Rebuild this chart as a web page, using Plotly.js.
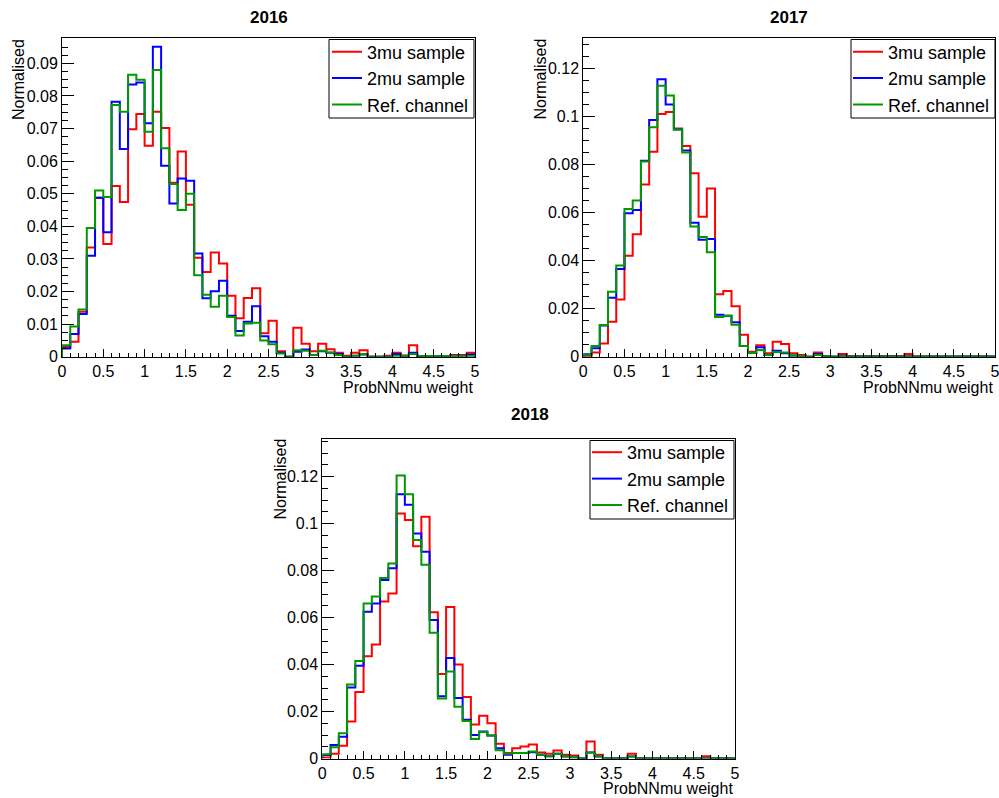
<!DOCTYPE html>
<html>
<head>
<meta charset="utf-8">
<script src="https://cdn.plot.ly/plotly-3.0.1.min.js"></script>
<style>html,body{margin:0;padding:0;background:#fff;}#chart{width:999px;height:798px;}</style>
</head>
<body>
<div id="chart"></div>
<script>
// Bin edges (50 bins, 0 to 5)
const binEdges = [0,0.1,0.2,0.3,0.4,0.5,0.6,0.7,0.8,0.9,1.0,1.1,1.2,1.3,1.4,1.5,1.6,1.7,1.8,1.9,2.0,2.1,2.2,2.3,2.4,2.5,2.6,2.7,2.8,2.9,3.0,3.1,3.2,3.3,3.4,3.5,3.6,3.7,3.8,3.9,4.0,4.1,4.2,4.3,4.4,4.5,4.6,4.7,4.8,4.9,5.0];

const seriesNames = ["3mu sample", "2mu sample", "Ref. channel"];
const panelTitles = ["2016", "2017", "2018"];
const xTitle = "ProbNNmu weight";
const yTitle = "Normalised";

// 2016
const red2016 = [0.003,0.0046,0.0138,0.0335,0.0488,0.0346,0.0524,0.0475,0.0698,0.0745,0.0647,0.0752,0.0702,0.0534,0.063,0.0466,0.0304,0.026,0.032,0.0286,0.0187,0.0118,0.018,0.021,0.0072,0.011,0.0017,0,0.0089,0.004,0.0017,0.004,0.0023,0.0012,0.0003,0.0012,0.002,0,0,0.0003,0.0012,0.0003,0.0035,0,0,0,0,0.0005,0.0005,0.0012];
const blue2016 = [0.0025,0.007,0.0131,0.031,0.0488,0.0382,0.0782,0.0637,0.0835,0.0841,0.0716,0.0951,0.0586,0.047,0.0547,0.054,0.0317,0.0179,0.0201,0.0233,0.0126,0.0079,0.0107,0.0155,0.0063,0.0046,0.0012,0,0.0015,0.0022,0.0005,0.0017,0.0012,0.0008,0,0.0003,0.0007,0,0,0,0.0008,0.0003,0.0012,0,0,0,0,0.0003,0.0003,0.0007];
const green2016 = [0.0035,0.0093,0.0145,0.0395,0.051,0.049,0.0772,0.0752,0.0865,0.085,0.069,0.088,0.064,0.053,0.045,0.05,0.025,0.019,0.0153,0.0187,0.0122,0.0065,0.0102,0.0104,0.005,0.0038,0.001,0,0.002,0.0018,0.0005,0.0018,0.0013,0.0005,0,0.0003,0.0008,0,0,0,0.0003,0.0003,0.0008,0.0002,0.0002,0.0002,0.0002,0.0002,0.0002,0.0002];

// 2017
const red2017 = [0.0003,0.0017,0.0055,0.0145,0.0238,0.042,0.051,0.0717,0.0853,0.101,0.1018,0.095,0.0877,0.0763,0.0582,0.07,0.026,0.0273,0.021,0.0091,0.0021,0.0048,0.0014,0.0062,0.0053,0.0014,0.0007,0,0.0017,0.0003,0,0.0011,0.0003,0.0003,0.0003,0.0003,0.0003,0.0003,0.0003,0.0011,0.0001,0.0001,0.0001,0.0001,0.0001,0.0001,0.0001,0.0001,0.0001,0.0001];
const blue2017 = [0.001,0.0035,0.013,0.0245,0.0365,0.0597,0.061,0.0815,0.0985,0.1155,0.105,0.0945,0.0858,0.0557,0.0487,0.049,0.0175,0.017,0.0143,0.0045,0.0015,0.0039,0.0007,0.0025,0.0014,0.0004,0.0003,0,0.0011,0.0002,0,0.0004,0.0001,0.0001,0.0001,0.0001,0.0001,0.0001,0.0001,0.0002,0.0001,0.0001,0.0001,0.0001,0.0001,0.0001,0.0001,0.0001,0.0001,0.0001];
const green2017 = [0.0008,0.0045,0.0132,0.027,0.038,0.0615,0.065,0.0812,0.0955,0.1128,0.1087,0.0945,0.085,0.0542,0.0498,0.0435,0.0165,0.017,0.0133,0.0045,0.0015,0.0028,0.0007,0.002,0.0017,0.0006,0.0003,0,0.0007,0.0002,0.0001,0.0002,0.0001,0.0001,0.0001,0.0001,0.0001,0.0001,0.0001,0.0001,0.0001,0.0001,0.0001,0.0001,0.0001,0.0001,0.0001,0.0001,0.0001,0.0001];

// 2018
const red2018 = [0.0004,0.002,0.0054,0.0158,0.0283,0.0435,0.0485,0.0668,0.0702,0.1043,0.1015,0.0904,0.1029,0.0623,0.036,0.0645,0.04,0.0262,0.0145,0.0182,0.015,0.0063,0.0023,0.0044,0.0051,0.006,0.0026,0.002,0.0034,0.0016,0.0013,0,0.0072,0.0016,0,0,0,0.002,0.0001,0.0001,0.0001,0.0001,0.0001,0.0001,0.0001,0.0001,0.001,0.0001,0.0001,0.0001];
const blue2018 = [0.0015,0.0058,0.0093,0.0302,0.0395,0.0625,0.066,0.076,0.081,0.1125,0.108,0.0958,0.088,0.059,0.0265,0.0428,0.0258,0.0165,0.01,0.0115,0.0098,0.0044,0.0016,0.0023,0.0023,0.0027,0.0016,0.001,0.002,0.0008,0.0004,0,0.0026,0.0008,0.0001,0.0001,0.0001,0.0008,0.0001,0.0001,0.0001,0.0001,0.0001,0.0001,0.0001,0.0001,0.0001,0.0001,0.0001,0.0001];
const green2018 = [0.0018,0.0048,0.0108,0.0315,0.0415,0.066,0.069,0.0768,0.083,0.1205,0.1125,0.093,0.0825,0.0535,0.0255,0.037,0.022,0.016,0.0083,0.0113,0.0098,0.0035,0.002,0.0023,0.0023,0.003,0.0016,0.001,0.002,0.001,0.0005,0,0.0026,0.001,0.0001,0.0001,0.0001,0.0008,0.0001,0.0001,0.0001,0.0001,0.0001,0.0001,0.0001,0.0001,0.0001,0.0001,0.0001,0.0001];

const colors = ["#ff0000", "#0000ff", "#009900"];
const FONT = "Liberation Sans, Arial, Helvetica, sans-serif";
const W = 999, H = 798;

// step outline: start at (0,0), step through bins, drop to 0 at last edge
function stepXY(vals) {
  const xs = [binEdges[0]];
  const ys = [0];
  for (let i = 0; i < vals.length; i++) { xs.push(binEdges[i]); ys.push(vals[i]); }
  xs.push(binEdges[binEdges.length - 1]); ys.push(0);
  return {xs, ys};
}

const panels = [
  {data: [red2016, blue2016, green2016], xa: "x", ya: "y", legend: "legend",
   box: {l: 62, r: 475, t: 38.3, b: 356.7}, yrange: [0, 0.0977], ydt: 0.01, yminor: 0.0025,
   title: {x: 269, y: 18}, yt: {x: 18.5, y: 37}, xt: {x: 475, y: 387},
   legBox: {l: 329, r: 474, t: 39.5, b: 118}, legTop: 33.5},
  {data: [red2017, blue2017, green2017], xa: "x2", ya: "y2", legend: "legend2",
   box: {l: 583.3, r: 995, t: 38.3, b: 356.7}, yrange: [0, 0.1325], ydt: 0.02, yminor: 0.005,
   title: {x: 789, y: 18}, yt: {x: 540, y: 37}, xt: {x: 995, y: 387},
   legBox: {l: 851, r: 995, t: 39.5, b: 118}, legTop: 33.5},
  {data: [red2018, blue2018, green2018], xa: "x3", ya: "y3", legend: "legend3",
   box: {l: 322.3, r: 735, t: 439.3, b: 758.5}, yrange: [0, 0.1359], ydt: 0.02, yminor: 0.005,
   title: {x: 530, y: 414}, yt: {x: 280, y: 437}, xt: {x: 735, y: 788},
   legBox: {l: 590, r: 734, t: 440.5, b: 519}, legTop: 434}
];

const traces = [];
const layout = {
  width: W, height: H,
  margin: {l: 0, r: 0, t: 0, b: 0},
  paper_bgcolor: "#ffffff", plot_bgcolor: "#ffffff",
  font: {family: FONT, color: "#000000", size: 16},
  annotations: [], shapes: [], showlegend: true
};

panels.forEach((p, pi) => {
  p.data.forEach((vals, si) => {
    const s = stepXY(vals);
    traces.push({
      type: "scatter", mode: "lines", x: s.xs, y: s.ys,
      xaxis: p.xa, yaxis: p.ya, name: seriesNames[si], legend: p.legend,
      line: {color: colors[si], width: 2, shape: "hv"},
      hoverinfo: "skip"
    });
  });
  const xk = pi === 0 ? "xaxis" : "xaxis" + (pi + 1);
  const yk = pi === 0 ? "yaxis" : "yaxis" + (pi + 1);
  layout[xk] = {
    domain: [p.box.l / W, p.box.r / W], anchor: p.ya,
    range: [0, 5], dtick: 0.5, tick0: 0, ticks: "inside", ticklen: 8, tickwidth: 1, tickcolor: "#000",
    minor: {dtick: 0.1, ticks: "inside", ticklen: 4, tickwidth: 1, tickcolor: "#000", showgrid: false},
    showgrid: false, zeroline: false, showline: true, linecolor: "#000", linewidth: 1, mirror: true,
    ticklabeloverflow: "allow",
    tickfont: {family: FONT, size: 16, color: "#000"}, fixedrange: true
  };
  layout[yk] = {
    domain: [1 - p.box.b / H, 1 - p.box.t / H], anchor: p.xa,
    range: p.yrange, dtick: p.ydt, tick0: 0, ticks: "inside", ticklen: 12, tickwidth: 1, tickcolor: "#000",
    minor: {dtick: p.yminor, ticks: "inside", ticklen: 6, tickwidth: 1, tickcolor: "#000", showgrid: false},
    showgrid: false, zeroline: false, showline: true, linecolor: "#000", linewidth: 1, mirror: true,
    ticklabeloverflow: "allow",
    tickfont: {family: FONT, size: 16, color: "#000"}, fixedrange: true
  };
  // legend frame (ROOT TLegend style box)
  layout.shapes.push({
    type: "rect", xref: "paper", yref: "paper", layer: "above",
    x0: p.legBox.l / W, x1: p.legBox.r / W, y0: 1 - p.legBox.b / H, y1: 1 - p.legBox.t / H,
    line: {color: "#000000", width: 1}, fillcolor: "#ffffff"
  });
  layout[p.legend] = {
    x: p.legBox.r / W, xanchor: "right", y: 1 - p.legTop / H, yanchor: "top",
    bgcolor: "rgba(0,0,0,0)", borderwidth: 0,
    font: {family: FONT, size: 18, color: "#000"}, tracegroupgap: 0
  };
  layout.annotations.push({
    text: "<b>" + panelTitles[pi] + "</b>", xref: "paper", yref: "paper",
    x: p.title.x / W, y: 1 - p.title.y / H, xanchor: "center", yanchor: "middle",
    showarrow: false, font: {family: FONT, size: 17, color: "#000"}
  });
  layout.annotations.push({
    text: yTitle, xref: "paper", yref: "paper", textangle: -90,
    x: p.yt.x / W, y: 1 - p.yt.y / H, xanchor: "center", yanchor: "top",
    showarrow: false, font: {family: FONT, size: 16, color: "#000"}
  });
  layout.annotations.push({
    text: xTitle, xref: "paper", yref: "paper",
    x: p.xt.x / W, y: 1 - p.xt.y / H, xanchor: "right", yanchor: "middle",
    showarrow: false, font: {family: FONT, size: 16, color: "#000"}
  });
});

Plotly.newPlot("chart", traces, layout, {staticPlot: true, displayModeBar: false});
</script>
</body>
</html>
